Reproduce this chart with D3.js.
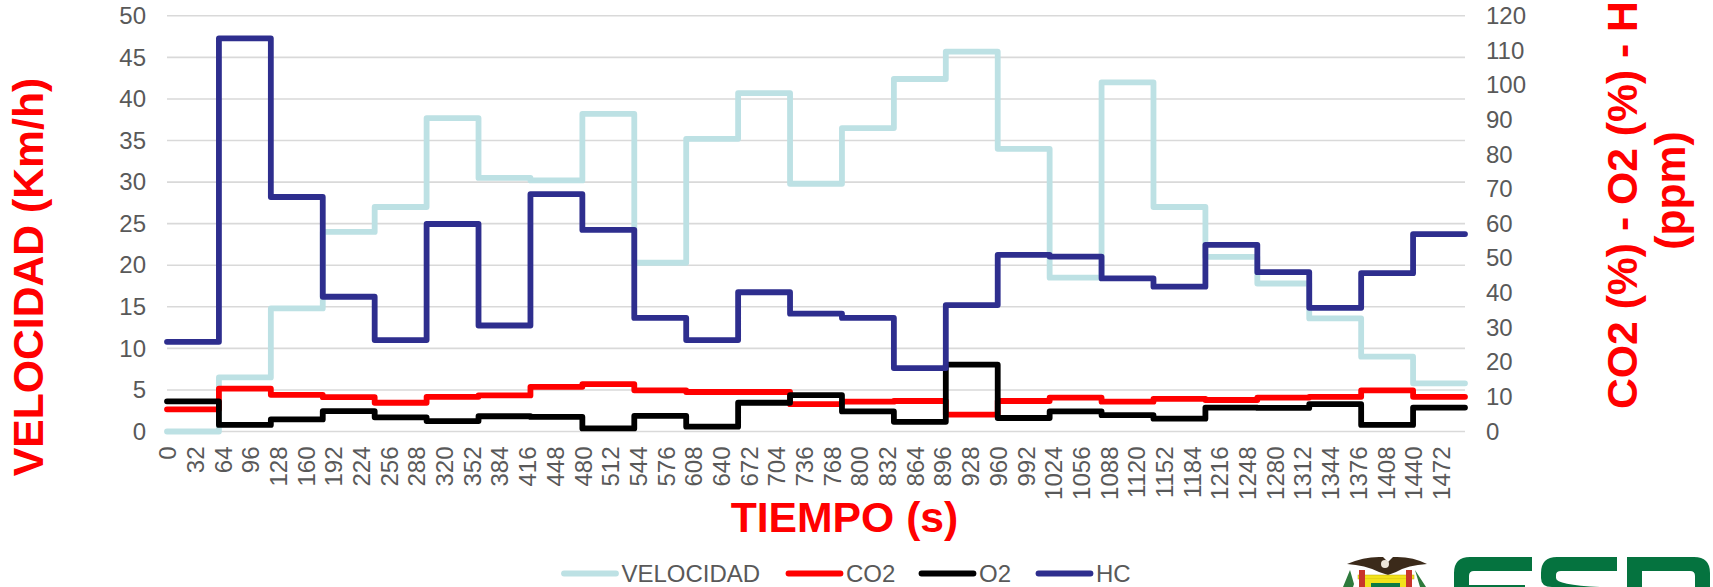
<!DOCTYPE html>
<html><head><meta charset="utf-8">
<script src="https://cdn.jsdelivr.net/npm/d3@7/dist/d3.min.js"></script>
<style>
html,body{margin:0;padding:0;background:#fff;overflow:hidden}
svg{display:block;font-family:"Liberation Sans",Arial,sans-serif}
</style></head><body>
<svg id="c" width="1713" height="587"></svg>
<script>
const segmentStarts = d3.range(0, 1500, 60);
const endTime = 1500;
const xTickValues = d3.range(0, 1473, 32);
const leftTicks = d3.range(0, 51, 5);
const rightTicks = d3.range(0, 121, 10);

const velocidad = [0,6.5,14.8,24,27,37.7,30.5,30.2,38.2,20.3,35.2,40.7,29.8,36.5,42.4,45.7,34,18.5,42,27,21,17.8,13.6,9,5.8];
const co2 = [6.4,12.4,10.6,9.9,8.3,10,10.4,12.9,13.7,11.9,11.4,11.4,7.9,8.6,8.8,4.9,8.8,9.8,8.6,9.4,9.1,9.8,10,11.9,10];
const o2 = [8.7,1.9,3.5,5.9,4.1,3,4.4,4.2,0.9,4.5,1.4,8.3,10.5,5.8,2.8,19.3,3.9,5.8,4.7,3.7,6.9,6.8,7.9,1.9,6.9];
const hc = [25.9,113.5,67.7,38.9,26.4,59.9,30.6,68.5,58.2,32.8,26.4,40.2,34,32.8,18.3,36.5,51,50.5,44.2,41.8,53.9,46,35.7,45.7,57];

const seriesNames = ["VELOCIDAD","CO2","O2","HC"];
const seriesColors = ["#BDE1E4","#FF0000","#000000","#2E2E8E"];
const tickColor = "#595959", gridColor = "#D9D9D9", titleColor = "#FF0000";

const svg = d3.select("#c");
const L=167,R=1465,T=15.8,B=431.5;
const x = d3.scaleLinear().domain([0,endTime]).range([L,R]);
const yL = d3.scaleLinear().domain([0,50]).range([B,T]);
const yR = d3.scaleLinear().domain([0,120]).range([B,T]);

// grid
svg.append("g").selectAll("line").data(leftTicks).join("line")
  .attr("x1",L).attr("x2",R).attr("y1",d=>yL(d)).attr("y2",d=>yL(d))
  .attr("stroke",gridColor).attr("stroke-width",1.6);

// axes
const gl = svg.append("g").attr("transform",`translate(${L-21},0)`)
  .call(d3.axisLeft(yL).tickValues(leftTicks).tickSize(0).tickPadding(0));
const gr = svg.append("g").attr("transform",`translate(${R+21},0)`)
  .call(d3.axisRight(yR).tickValues(rightTicks).tickSize(0).tickPadding(0));
const gx = svg.append("g").attr("transform",`translate(0,${B+15})`)
  .call(d3.axisBottom(x).tickValues(xTickValues).tickFormat(d3.format("d")).tickSize(0).tickPadding(0));
gx.selectAll("text").attr("transform","rotate(-90)").attr("text-anchor","end")
  .attr("x",0).attr("y",0).attr("dy","0.36em");
[gl,gr,gx].forEach(g=>{
  g.select(".domain").remove();
  g.selectAll("text").attr("fill",tickColor).attr("font-size",24).attr("font-family",'"Liberation Sans",Arial,sans-serif');
});

// series
const mk = (scale)=>d3.line().curve(d3.curveStepAfter).x(d=>x(d[0])).y(d=>scale(d[1]));
const withEnd = vals=>{const p=segmentStarts.map((t,i)=>[t,vals[i]]);p.push([endTime,vals[vals.length-1]]);return p;};
const drawn = [[velocidad,yL,0],[co2,yR,1],[o2,yR,2],[hc,yR,3]];
svg.append("g").selectAll("path").data(drawn).join("path")
  .attr("d",d=>mk(d[1])(withEnd(d[0])))
  .attr("fill","none").attr("stroke",d=>seriesColors[d[2]])
  .attr("stroke-width",5.8).attr("stroke-linejoin","round").attr("stroke-linecap","round");

// titles
const title = (t,xx,yy,rot,anchor)=>svg.append("text").text(t)
  .attr("transform",`translate(${xx},${yy}) rotate(${rot})`)
  .attr("text-anchor",anchor||"middle").attr("fill",titleColor)
  .attr("font-size",42.7).attr("font-weight","bold");
title("VELOCIDAD (Km/h)",43,277,-90);
title("TIEMPO (s)",844.5,532,0);
title("CO2 (%) - O2 (%) - HC",1637,409,-90,"start");
title("(ppm)",1685,190.5,-90);

// legend
const legendSwatchX = [561.5,786,919,1036];
const lg = svg.append("g").selectAll("g").data(seriesNames).join("g")
  .attr("transform",(d,i)=>`translate(${legendSwatchX[i]},573.5)`);
lg.append("line").attr("x1",2.5).attr("x2",54.5).attr("stroke",(d,i)=>seriesColors[i])
  .attr("stroke-width",5.8).attr("stroke-linecap","round");
lg.append("text").text(d=>d).attr("x",60).attr("dy","0.35em")
  .attr("fill",tickColor).attr("font-size",24);

// logo (cropped by the bottom edge of the picture)
const logo = svg.append("g");
const green="#05733F";
logo.append("path").attr("fill",green).attr("d",
 "M1532 557 H1470 Q1454 557 1454 573 V587 H1469 V576 Q1469 571 1474 571 H1532 Z M1469 585 H1525 V587 H1469 Z");
logo.append("path").attr("fill",green).attr("d",
 "M1617 557 H1557 Q1541 557 1541 573 V578 Q1541 587 1552 587 H1600 Q1556 585 1556 578 V575 Q1556 571 1561 571 H1617 Z");
logo.append("path").attr("fill",green).attr("d",
 "M1627 557 H1694 Q1710 557 1710 573 V587 H1695 V576 Q1695 571 1690 571 H1642 V587 H1627 Z");
// crest
logo.append("path").attr("fill","#3B2A1A").attr("d",
 "M1347 564 Q1365 556 1383 557 L1388 562 L1393 557 Q1412 556 1427 564 Q1408 565 1396 572 L1388 575 L1379 572 Q1365 565 1347 564 Z");
logo.append("circle").attr("cx",1385).attr("cy",564).attr("r",4).attr("fill","#EDE6DA");
logo.append("rect").attr("x",1358).attr("y",575).attr("width",56).attr("height",4).attr("fill","#F2E21B").attr("stroke","#B9A70F").attr("stroke-width",.5);
logo.append("rect").attr("x",1364).attr("y",579).attr("width",44).attr("height",8).attr("fill","#F2E21B");
logo.append("path").attr("fill","#0B7A45").attr("d","M1371 587 V583 H1400 V587 Z");
logo.append("rect").attr("x",1359).attr("y",570).attr("width",6).attr("height",17).attr("fill","#C8352B");
logo.append("rect").attr("x",1406).attr("y",570).attr("width",6).attr("height",17).attr("fill","#C8352B");
logo.append("path").attr("fill","#2E7A3C").attr("d","M1343 587 L1350 570 L1354 584 L1353 587 Z M1415 570 L1426 587 H1420 Z");
</script>
</body></html>
